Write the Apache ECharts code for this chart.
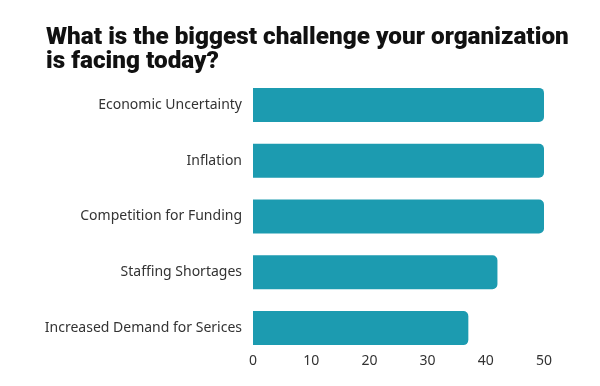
<!DOCTYPE html>
<html>
<head>
<meta charset="utf-8">
<script src="https://cdn.jsdelivr.net/npm/echarts@6/dist/echarts.min.js"></script>
<style>html,body{margin:0;padding:0;background:#fff;}#c{width:600px;height:386px;}</style>
</head>
<body>
<div id="c"></div>
<script>
const titleText = "What is the biggest challenge your organization\nis facing today?";
const categories = ["Economic Uncertainty", "Inflation", "Competition for Funding", "Staffing Shortages", "Increased Demand for Serices"];
const values = [50, 50, 50, 42, 37];
const xTicks = [0, 10, 20, 30, 40, 50];

const chart = echarts.init(document.getElementById('c'));
chart.setOption({
  animation: false,
  title: {
    text: titleText,
    left: 41, top: 21,
    textStyle: { fontFamily: 'Roboto', fontWeight: 900, fontSize: 24.3, lineHeight: 24, color: '#111' }
  },
  grid: { left: 253, right: 56, top: 77, bottom: 30 },
  xAxis: {
    type: 'value', min: xTicks[0], max: xTicks[xTicks.length - 1], interval: 10,
    axisLine: { show: false }, axisTick: { show: false }, splitLine: { show: false },
    axisLabel: { fontFamily: 'Noto Sans', fontSize: 14, color: '#333', margin: -2 }
  },
  yAxis: {
    type: 'category', data: categories, inverse: true,
    axisLine: { show: false }, axisTick: { show: false },
    axisLabel: { fontFamily: 'Noto Sans', fontSize: 14, color: '#333', margin: 11 }
  },
  series: [{
    type: 'bar', data: values, barWidth: 34,
    itemStyle: { color: '#1c9bb0', borderRadius: [0, 5, 5, 0] }
  }]
});
</script>
</body>
</html>
